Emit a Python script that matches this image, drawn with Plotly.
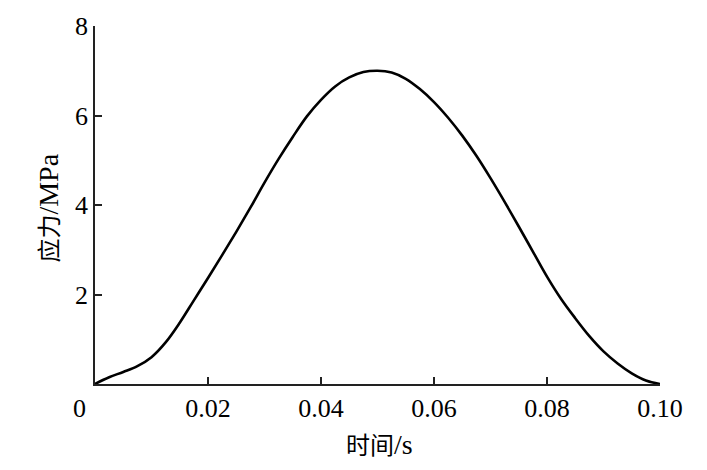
import plotly.graph_objects as go

time_s = [0, 0.0025, 0.005, 0.0075, 0.010, 0.0125, 0.015, 0.0175, 0.020, 0.0225,
          0.025, 0.0275, 0.030, 0.0325, 0.035, 0.0375, 0.040, 0.0425, 0.045, 0.0475,
          0.050, 0.0525, 0.055, 0.0575, 0.060, 0.0625, 0.065, 0.0675, 0.070, 0.0725,
          0.075, 0.0775, 0.080, 0.0825, 0.085, 0.0875, 0.090, 0.0925, 0.095, 0.0975,
          0.100]
stress_mpa = [0, 0.15, 0.27, 0.40, 0.60, 0.93, 1.37, 1.87, 2.37, 2.88,
              3.40, 3.94, 4.50, 5.03, 5.52, 5.98, 6.35, 6.65, 6.85, 6.97,
              7.00, 6.96, 6.82, 6.59, 6.30, 5.95, 5.55, 5.10, 4.60, 4.07,
              3.52, 2.96, 2.40, 1.90, 1.47, 1.07, 0.73, 0.46, 0.24, 0.08,
              0]

x_ticks = [0.02, 0.04, 0.06, 0.08, 0.10]
x_tick_labels = ["0.02", "0.04", "0.06", "0.08", "0.10"]
y_ticks = [2, 4, 6, 8]
y_tick_labels = ["2", "4", "6", "8"]

serif = "Liberation Serif, Times New Roman, serif"
cjk = "Liberation Serif, Noto Sans CJK SC, serif"

fig = go.Figure()
fig.add_trace(go.Scatter(x=time_s, y=stress_mpa, mode="lines",
                         line=dict(color="black", width=2.6, shape="spline", smoothing=1.0),
                         showlegend=False, hoverinfo="skip"))

fig.update_layout(
    width=707, height=470,
    margin=dict(l=95, r=47, t=26, b=86),
    paper_bgcolor="white", plot_bgcolor="white",
    font=dict(family=serif, size=26, color="black"),
    xaxis=dict(range=[0, 0.10], tickvals=x_ticks, ticktext=x_tick_labels,
               showline=True, linecolor="#222", linewidth=1.5, mirror=False,
               ticks="inside", ticklen=7, tickwidth=1.5, tickcolor="#222",
               showgrid=False, zeroline=False, automargin=False,
               tickfont=dict(family=serif, size=26, color="black")),
    yaxis=dict(range=[0, 8], tickvals=y_ticks, ticktext=y_tick_labels,
               showline=True, linecolor="#222", linewidth=1.5, mirror=False,
               ticks="inside", ticklen=7, tickwidth=1.5, tickcolor="#222",
               showgrid=False, zeroline=False, automargin=False,
               tickfont=dict(family=serif, size=26, color="black")),
    annotations=[
        dict(text="0", x=-0.028, y=0, xref="paper", yref="paper",
             xanchor="center", yanchor="top", yshift=-8, showarrow=False,
             font=dict(family=serif, size=26, color="black")),
        dict(text="<span style='font-size:24px'>时间</span>/s", x=0.504, y=-0.17,
             xref="paper", yref="paper",
             xanchor="center", yanchor="middle", showarrow=False,
             font=dict(family=cjk, size=28, color="black")),
        dict(text="<span style='font-size:24px'>应力</span>/MPa", x=-0.0814, y=0.49,
             xref="paper", yref="paper",
             xanchor="center", yanchor="middle", textangle=-90, showarrow=False,
             font=dict(family=cjk, size=28, color="black")),
    ],
)

fig.write_html("out.html", config={"displayModeBar": False},
               post_script="document.body.style.margin='0';")
